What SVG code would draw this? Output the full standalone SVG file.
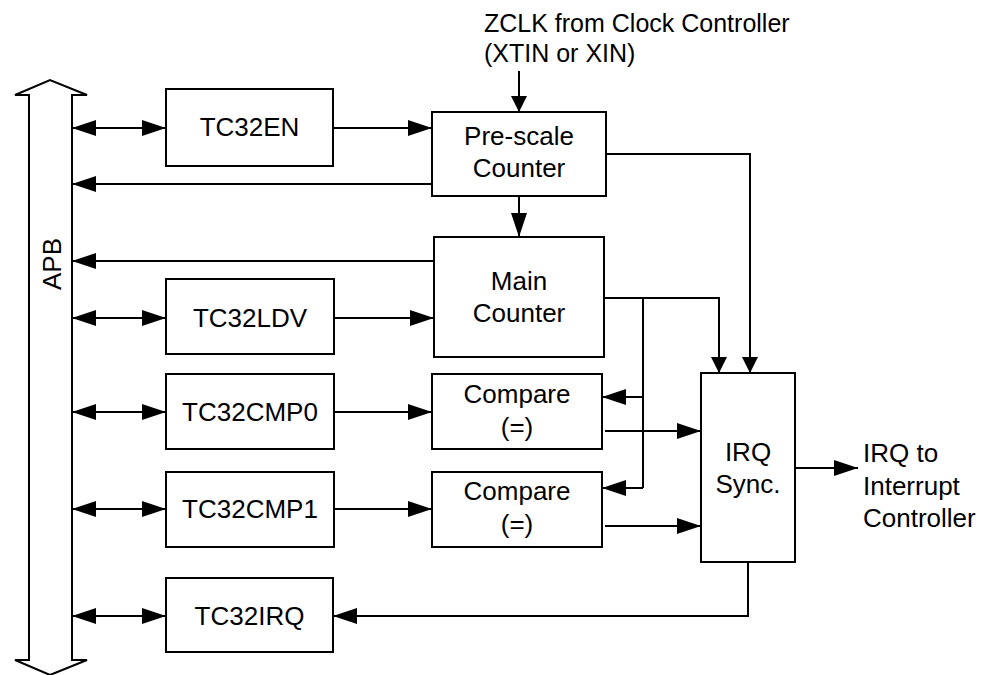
<svg xmlns="http://www.w3.org/2000/svg" width="986" height="675" viewBox="0 0 986 675">
<style>
.box{fill:#fff;stroke:#000;stroke-width:2}
.ln{fill:none;stroke:#000;stroke-width:2}
.t{font-family:"Liberation Sans",Arial,sans-serif;font-size:26px;fill:#000}
.c{text-anchor:middle}
.z{font-size:25px}
</style>
<defs>
<marker id="a" viewBox="0 0 24 16" refX="24" refY="8" markerWidth="24" markerHeight="16" markerUnits="userSpaceOnUse" orient="auto-start-reverse"><path d="M0,0 L24,8 L0,16 Z"/></marker>
<marker id="s" viewBox="0 0 16 16" refX="16" refY="8" markerWidth="16" markerHeight="16" markerUnits="userSpaceOnUse" orient="auto"><path d="M0,0 L16,8 L0,16 Z"/></marker>
</defs>
<g id="apb">
<path class="ln" d="M29,95 L15,95 L50,80 L87,95 L72,95 L72,660 L87,660 L50,675 L15,660 L29,660 Z" fill="#fff"/>
<text class="t c" transform="translate(61,264) rotate(-90)">APB</text>
</g>
<g id="connectors">
<line class="ln" x1="72" y1="128" x2="166" y2="128" marker-start="url(#a)" marker-end="url(#a)"/>
<line class="ln" x1="72" y1="318" x2="166" y2="318" marker-start="url(#a)" marker-end="url(#a)"/>
<line class="ln" x1="72" y1="412" x2="166" y2="412" marker-start="url(#a)" marker-end="url(#a)"/>
<line class="ln" x1="72" y1="509" x2="166" y2="509" marker-start="url(#a)" marker-end="url(#a)"/>
<line class="ln" x1="72" y1="616" x2="166" y2="616" marker-start="url(#a)" marker-end="url(#a)"/>
<line class="ln" x1="333" y1="128" x2="432" y2="128" marker-end="url(#a)"/>
<line class="ln" x1="334" y1="318" x2="434" y2="318" marker-end="url(#a)"/>
<line class="ln" x1="334" y1="412" x2="432" y2="412" marker-end="url(#a)"/>
<line class="ln" x1="334" y1="509" x2="432" y2="509" marker-end="url(#a)"/>
<line class="ln" x1="436" y1="184" x2="72" y2="184" marker-end="url(#a)"/>
<line class="ln" x1="436" y1="261" x2="72" y2="261" marker-end="url(#a)"/>
<line class="ln" x1="519" y1="71" x2="519" y2="112" marker-end="url(#s)"/>
<line class="ln" x1="519" y1="196" x2="519" y2="237" marker-end="url(#a)"/>
<polyline class="ln" points="606,154 750,154 750,373" marker-end="url(#s)"/>
<polyline class="ln" points="604,298 719,298 719,373" marker-end="url(#s)"/>
<polyline class="ln" points="643,298 643,488"/>
<line class="ln" x1="643" y1="397" x2="602" y2="397" marker-end="url(#a)"/>
<line class="ln" x1="643" y1="488" x2="602" y2="488" marker-end="url(#a)"/>
<line class="ln" x1="605" y1="431" x2="701" y2="431" marker-end="url(#a)"/>
<line class="ln" x1="605" y1="526" x2="701" y2="526" marker-end="url(#a)"/>
<line class="ln" x1="795" y1="468" x2="858" y2="468" marker-end="url(#a)"/>
<polyline class="ln" points="748,562 748,616 333,616" marker-end="url(#a)"/>
</g>
<g id="tc32en"><rect class="box" x="166" y="89" width="167" height="77"/><text class="t c" x="249.5" y="136">TC32EN</text></g>
<g id="tc32ldv"><rect class="box" x="166" y="279" width="168" height="75"/><text class="t c" x="250" y="327">TC32LDV</text></g>
<g id="tc32cmp0"><rect class="box" x="166" y="374" width="168" height="75"/><text class="t c" x="250" y="421">TC32CMP0</text></g>
<g id="tc32cmp1"><rect class="box" x="166" y="472" width="168" height="75"/><text class="t c" x="250" y="518">TC32CMP1</text></g>
<g id="tc32irq"><rect class="box" x="166" y="578" width="167" height="74"/><text class="t c" x="249.5" y="625">TC32IRQ</text></g>
<g id="prescale"><rect class="box" x="432" y="112" width="174" height="84"/><text class="t c" x="519" y="145">Pre-scale</text><text class="t c" x="519" y="177">Counter</text></g>
<g id="main"><rect class="box" x="434" y="237" width="170" height="120"/><text class="t c" x="519" y="290">Main</text><text class="t c" x="519" y="322">Counter</text></g>
<g id="compare0"><rect class="box" x="432" y="374" width="170" height="75"/><text class="t c" x="517" y="403">Compare</text><text class="t c" x="517" y="436">(=)</text></g>
<g id="compare1"><rect class="box" x="432" y="472" width="170" height="75"/><text class="t c" x="517" y="500">Compare</text><text class="t c" x="517" y="533">(=)</text></g>
<g id="irqsync"><rect class="box" x="701" y="373" width="94" height="189"/><text class="t c" x="748" y="461">IRQ</text><text class="t c" x="748" y="493">Sync.</text></g>
<g id="zclk"><text class="t z" x="484" y="32">ZCLK from Clock Controller</text><text class="t z" x="484" y="62">(XTIN or XIN)</text></g>
<g id="irqout"><text class="t" x="863" y="462">IRQ to</text><text class="t" x="863" y="495">Interrupt</text><text class="t" x="863" y="527">Controller</text></g>
</svg>
